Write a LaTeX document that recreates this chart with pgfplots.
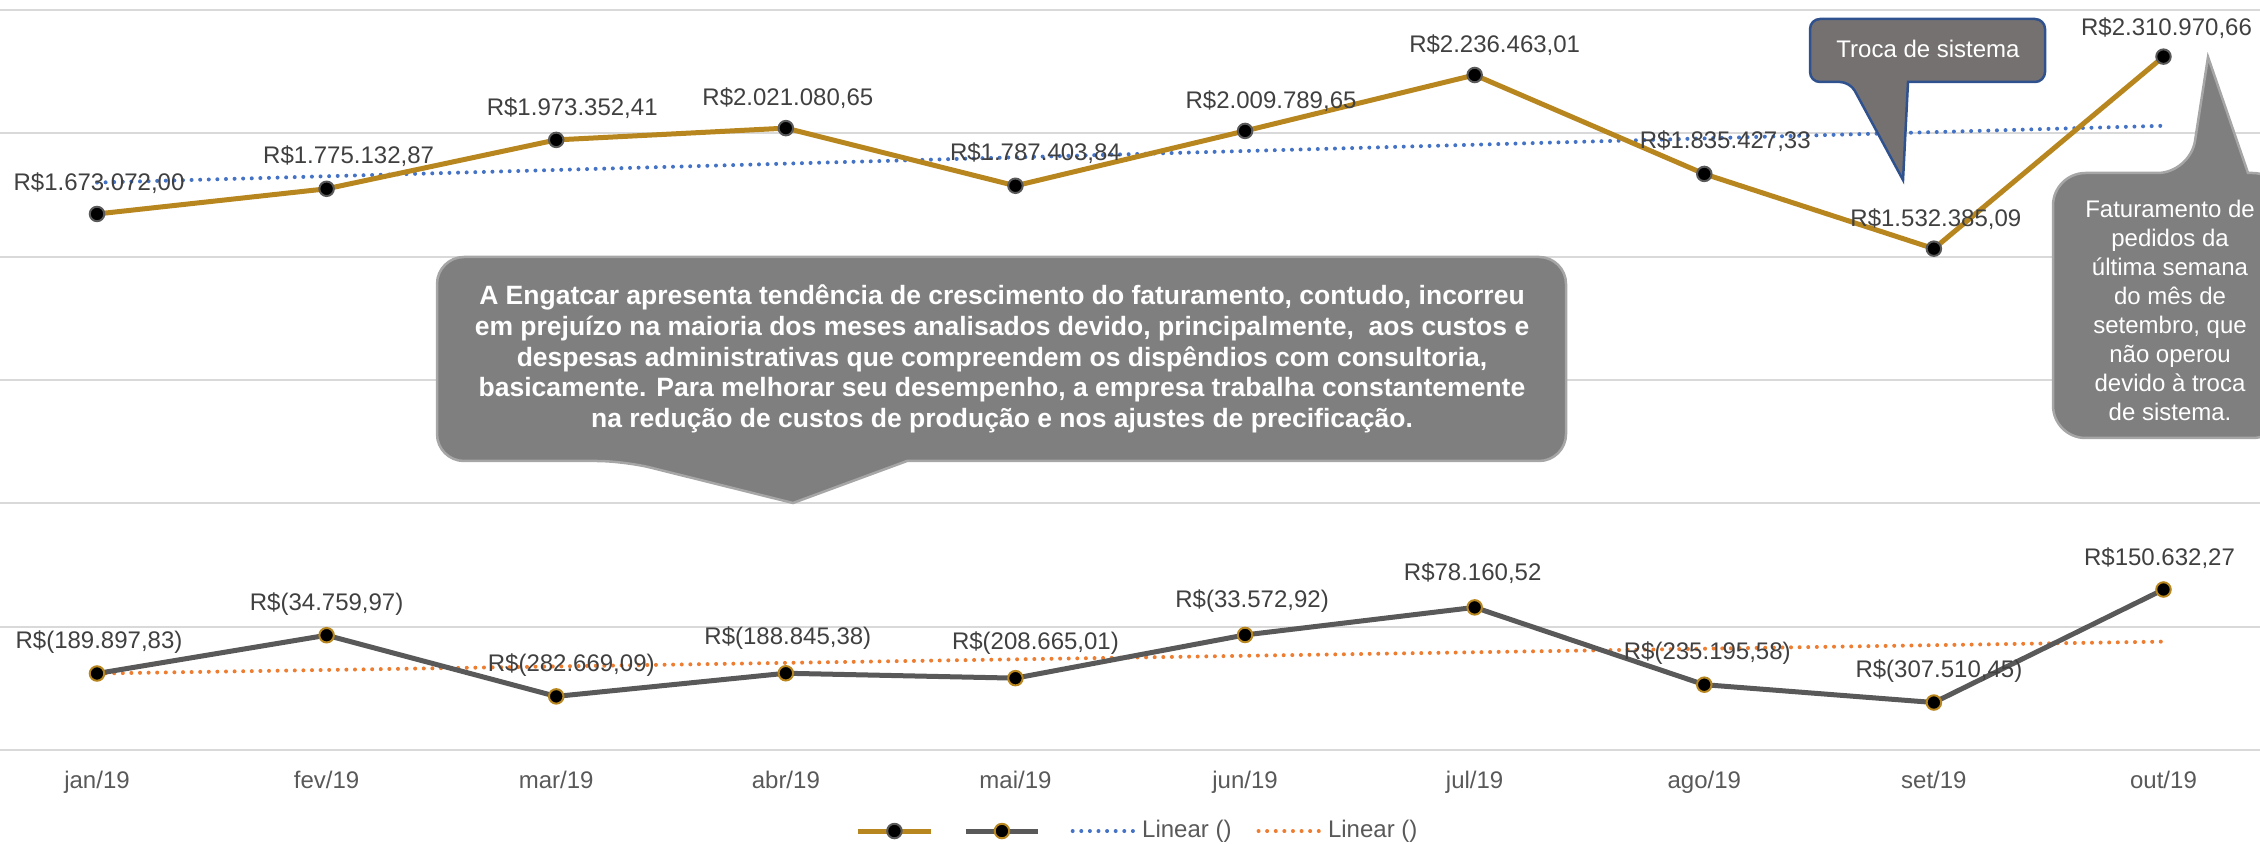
\documentclass[border=0pt]{standalone}
\usepackage{pgfplots}
\usepackage{pgfplotstable}
\pgfplotsset{compat=1.18}
\usepackage{fontspec}
\setmainfont{Liberation Sans}

\definecolor{goldc}{RGB}{184,134,30}
\definecolor{darkline}{RGB}{89,89,89}
\definecolor{trendblue}{RGB}{68,114,196}
\definecolor{trendorange}{RGB}{237,125,49}
\definecolor{gridc}{RGB}{217,217,217}
\definecolor{labc}{RGB}{64,64,64}
\definecolor{tickc}{RGB}{89,89,89}
\definecolor{calfill}{RGB}{127,127,127}
\definecolor{calborder}{RGB}{166,166,166}
\definecolor{trocafill}{RGB}{118,113,113}
\definecolor{trocaborder}{RGB}{47,82,143}

\newcommand\lbl{\fontsize{9.6}{11.5}\selectfont}

\pgfplotstableread{
x fat res dxf dyf dxr dyr labf labr
0 1673072.00 -189897.83 0.8 12.4 0.8 12.4 R\$1.673.072,00 R\$(189.897,83)
1 1775132.87 -34759.97 8.8 13.2 0 12.4 R\$1.775.132,87 R\$(34.759,97)
2 1973352.41 -282669.09 6.4 12.8 6 12.4 R\$1.973.352,41 R\$(282.669,09)
3 2021080.65 -188845.38 0.8 12 0.8 14 R\$2.021.080,65 R\$(188.845,38)
4 1787403.84 -208665.01 8 13.2 8 14 R\$1.787.403,84 R\$(208.665,01)
5 2009789.65 -33572.92 10.4 12 2.8 13.6 R\$2.009.789,65 R\$(33.572,92)
6 2236463.01 78160.52 8 12 -0.8 13.6 R\$2.236.463,01 R\$78.160,52
7 1835427.33 -235195.58 8.4 13.2 1.2 12.8 R\$1.835.427,33 R\$(235.195,58)
8 1532385.09 -307510.45 0.8 12 2 12.4 R\$1.532.385,09 R\$(307.510,45)
9 2310970.66 150632.27 1.2 11.2 -1.6 12.4 R\$2.310.970,66 R\$150.632,27
}\data

\tikzset{
  tblue/.style={trendblue, line width=1.6pt, line cap=round, dash pattern=on 0pt off 3.44pt},
  torange/.style={trendorange, line width=1.6pt, line cap=round, dash pattern=on 0pt off 3.44pt},
}

\begin{document}
\begin{tikzpicture}
\begin{axis}[
  at={(0pt,0pt)}, anchor=south west,
  scale only axis, width=904pt, height=296pt,
  xmin=-0.4225, xmax=9.4205, ymin=-500000, ymax=2500000,
  axis line style={draw=none},
  ytick={-500000,0,500000,1000000,1500000,2000000,2500000},
  yticklabels={}, scaled y ticks=false,
  ymajorgrids, grid style={draw=gridc, line width=0.8pt},
  xtick={0,1,2,3,4,5,6,7,8,9},
  xticklabels={jan/19,fev/19,mar/19,abr/19,mai/19,jun/19,jul/19,ago/19,set/19,out/19},
  major tick length=0pt,
  tick style={draw=none},
  xticklabel style={font=\lbl, text=tickc, yshift=-4.8pt},
  clip=false,
  legend style={at={(0.504,-0.1095)}, anchor=center, draw=none, fill=none,
    legend columns=4, font=\lbl, text=tickc,
    /tikz/every even column/.append style={column sep=8pt}},
  legend image code/.code={\draw[mark repeat=2,mark phase=2] plot coordinates {(0pt,0pt) (14.5pt,0pt) (29pt,0pt)};},
]
\addplot[forget plot, tblue] table[x=x, y={create col/linear regression={y=fat}}] {\data};
\addplot[forget plot, torange] table[x=x, y={create col/linear regression={y=res}}] {\data};

\addplot[goldc, line width=2pt, mark=*, mark size=2.9pt,
  mark options={fill=black, draw=darkline, line width=0.8pt},
  nodes near coords, point meta=explicit symbolic,
  visualization depends on={\thisrow{dxf}\as\dx},
  visualization depends on={\thisrow{dyf}\as\dy},
  every node near coord/.append style={anchor=center, xshift=\dx pt, yshift=\dy pt, font=\lbl, text=labc}]
  table[x=x, y=fat, meta=labf] {\data};
\addlegendentry{\mbox{}}

\addplot[darkline, line width=2pt, mark=*, mark size=2.9pt,
  mark options={fill=black, draw=goldc, line width=0.8pt},
  nodes near coords, point meta=explicit symbolic,
  visualization depends on={\thisrow{dxr}\as\dx},
  visualization depends on={\thisrow{dyr}\as\dy},
  every node near coord/.append style={anchor=center, xshift=\dx pt, yshift=\dy pt, font=\lbl, text=labc}]
  table[x=x, y=res, meta=labr] {\data};
\addlegendentry{\mbox{}}

\addlegendimage{tblue, legend image code/.code={\draw (0pt,0pt) -- (25pt,0pt);}}
\addlegendentry{Linear ()}
\addlegendimage{torange, legend image code/.code={\draw (0pt,0pt) -- (25pt,0pt);}}
\addlegendentry{Linear ()}
\end{axis}

\begin{scope}[x=1pt, y=1pt]
% central callout
\path[fill=calfill, draw=calborder, line width=1pt]
  (362.8,115.6) [rounded corners=10.8pt] -- (626.4,115.6) -- (626.4,197.2) -- (174.8,197.2) -- (174.8,115.6) -- (249.6,115.6) [sharp corners] -- (317.2,98.8) -- cycle;
\node[text=white, font=\fontsize{10.6}{12.3}\selectfont\bfseries, align=center] at (400.8,156.4)
  {A Engatcar apresenta tendência de crescimento do faturamento, contudo, incorreu\\
   em prejuízo na maioria dos meses analisados devido, principalmente,\ \ aos custos e\\
   despesas administrativas que compreendem os dispêndios com consultoria,\\
   basicamente. Para melhorar seu desempenho, a empresa trabalha constantemente\\
   na redução de custos de produção e nos ajustes de precificação.};
% Troca callout
\path[fill=trocafill, draw=trocaborder, line width=1pt]
  (763.2,267.2) [rounded corners=4pt] -- (818,267.2) -- (818,292.4) -- (724,292.4) -- (724,267.2) -- (740,267.2) [sharp corners] -- (761.2,228) -- cycle;
\node[text=white, font=\lbl] at (771.2,280.4) {Troca de sistema};
% right callout
\path[fill=calfill, draw=calborder, line width=1pt]
  (899.2,230.8) [rounded corners=13pt] -- (914,230.8) -- (914,124.8) -- (821.2,124.8) -- (821.2,230.8) -- (876,230.8) [sharp corners] -- (883.2,277.2) -- cycle;
\node[text=white, font=\fontsize{9.6}{11.6}\selectfont, align=center] at (868,176)
  {Faturamento de\\pedidos da\\última semana\\do mês de\\setembro, que\\não operou\\devido à troca\\de sistema.};
\end{scope}

\pgfresetboundingbox
\path[use as bounding box] (0pt,-37.2pt) rectangle (904pt,300pt);
\end{tikzpicture}
\end{document}
